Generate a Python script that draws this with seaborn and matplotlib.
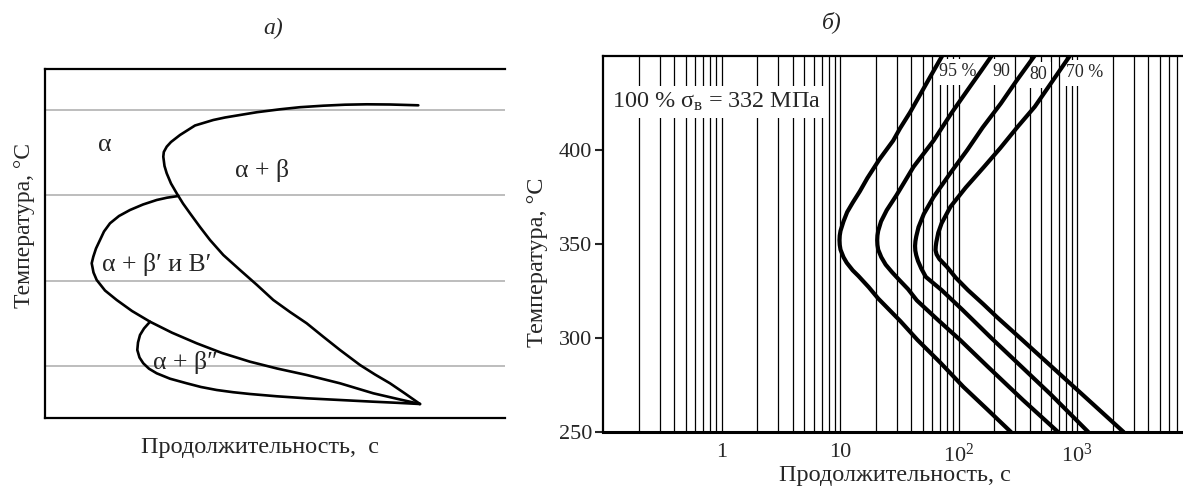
import numpy as np
import pandas as pd
import matplotlib
matplotlib.use("Agg")
import matplotlib.pyplot as plt
from matplotlib.ticker import FixedLocator, LogLocator, NullFormatter
import seaborn as sns

# ---------------- panel a) : schematic (arbitrary units read from picture) ----------------
a_grid_levels = [308, 222.7, 137.3, 52]

a_curveA_u = [373.3, 345, 321.7, 300, 278.3, 255, 235, 212, 195, 180, 168.3, 150, 135, 126, 121.7, 118.8,
              118.3, 119.5, 121.7, 126, 131.7, 138, 145, 155, 165, 178.3, 195, 212, 228.3, 245, 261.7,
              278, 295, 315, 330, 345, 360, 375]
a_curveA_v = [312.7, 313.5, 313.7, 313.3, 312.3, 310.8, 308.7, 305.8, 303, 300.5, 298, 292.5, 283, 276,
              271.3, 266, 261.3, 252, 244.7, 234.5, 224.7, 214.5, 204.7, 191, 178, 163, 148, 133, 118, 106,
              94.7, 81.5, 68, 53, 43.5, 34.7, 24.5, 14]

a_curveB_u = [133.3, 122, 111.7, 98, 85, 74, 65, 59, 55, 51, 48.3, 46.7, 48.5, 51.7, 60, 71.7, 87, 105, 127,
              151.7, 177, 205, 232, 261.7, 295, 328.3, 352, 375]
a_curveB_v = [222, 220.3, 218, 213.5, 208, 202, 194.7, 186.5, 178, 169.5, 161.3, 154.7, 145.5, 138, 127.5,
              118, 107, 96.3, 85.3, 74.7, 65, 56.3, 49.5, 43, 34.7, 24.7, 19.2, 14]

a_curveC_u = [105, 99, 95, 93, 92.3, 94.5, 98.3, 104, 111.7, 125, 141.7, 156, 171.7, 188, 205, 232, 261.7,
              295, 328.3, 352, 375]
a_curveC_v = [96.3, 89.5, 83, 75.5, 68, 60.5, 54.7, 49.3, 44.7, 39.3, 34.7, 31, 28, 25.8, 24, 21.7, 19.7,
              18, 16.3, 15.2, 14]

a_labels = ["α", "α + β", "α + β′ и В′", "α + β″"]
a_label_u = [60, 217, 112, 140]
a_label_v = [273, 248, 153, 55]

# ---------------- panel b) : C-curves, temperature (°C) vs duration (s) ----------------
b_names = ["95 %", "90", "80", "70 %"]

b_T1 = [450, 440, 430, 420, 411.5, 405, 395, 385, 378, 372, 367, 362, 357, 354.5, 352, 349.5, 347, 343,
        340, 336, 333, 327, 321, 309, 299, 287, 274, 262, 250]
b_t1 = [72.7, 59, 48, 39, 32.1, 28.1, 21.5, 17, 14.7, 12.8, 11.5, 10.7, 10.1, 9.95, 9.9, 9.95, 10.1,
        10.7, 11.4, 12.8, 14.3, 17.5, 21, 32.3, 45, 70, 110, 175, 277]

b_T2 = [450, 442, 434, 420, 405, 391, 383, 376, 368, 362, 357, 354.5, 352, 349.5, 347, 343, 339, 335,
        331, 326, 320, 310, 299, 285, 267, 250]
b_t2 = [190, 155, 126, 88, 61.6, 41.7, 35, 30, 24.8, 22.2, 21, 20.7, 20.6, 20.7, 21, 22.3, 24.3, 27.5,
        31.5, 37.5, 44.5, 66, 103, 175, 350, 692]

b_T3 = [450, 437, 424.8, 412, 400, 388, 375, 366, 359, 354, 351.5, 349, 346.5, 344, 341, 337, 332.5,
        325.5, 315, 300, 288, 270, 250]
b_t3 = [437, 310, 228, 160, 118.6, 86, 61.6, 51, 46, 44, 43.3, 43, 43.2, 44, 45.5, 48.5, 53, 72, 108,
        189, 300, 600, 1245]

b_T4 = [450, 434.5, 423, 412.4, 401, 391, 380, 369.8, 361, 356, 351, 348.8, 346.7, 344.5, 342, 337.8,
        332, 325.5, 318, 311, 299, 284.6, 268, 250]
b_t4 = [868, 588, 440, 316, 225, 164, 115, 85.5, 72, 67.5, 65, 64.3, 64, 65.3, 69, 80, 95, 120, 162, 212,
        345, 615, 1200, 2472]

b_label_t = [99, 228, 469, 1170]
b_label_T = [441.5, 441.5, 440, 441]

b_xticks = [1, 10, 100, 1000]
b_xticklabels = ["1", "10", "10$^\\mathregular{2}$", "10$^\\mathregular{3}$"]
b_yticks = [250, 300, 350, 400]

# ---------------- figure ----------------
sns.set_style("white")
plt.rcParams["font.family"] = ["Liberation Serif", "DejaVu Serif"]
plt.rcParams["mathtext.default"] = "regular"

W, H = 1183, 488
fig = plt.figure(figsize=(W / 100, H / 100), dpi=100)

# ---- panel a
RL = 505
axL = fig.add_axes([45 / W, (H - 418) / H, (RL - 45) / W, (418 - 69) / H])
for lvl in a_grid_levels:
    axL.axhline(lvl, color="#b8b8b8", lw=1.3, zorder=1)
for uu, vv in [(a_curveA_u, a_curveA_v), (a_curveB_u, a_curveB_v), (a_curveC_u, a_curveC_v)]:
    df = pd.DataFrame({"u": uu, "v": vv})
    sns.lineplot(data=df, x="u", y="v", sort=False, estimator=None, color="black", lw=1.9,
                 ax=axL, zorder=3)
axL.set_xlim(0, RL - 45)
axL.set_ylim(0, 349)
axL.set_xticks([])
axL.set_yticks([])
axL.set_xlabel("")
axL.set_ylabel("")
for s in ["left", "top", "bottom"]:
    axL.spines[s].set_visible(True)
    axL.spines[s].set_color("black")
    axL.spines[s].set_linewidth(1.6)
axL.spines["right"].set_visible(False)
for txt, uu, vv in zip(a_labels, a_label_u, a_label_v):
    axL.text(uu, vv, txt, ha="center", va="center", fontsize=18.5, zorder=4)

fig.text(260 / W, 1 - 448 / H, "Продолжительность,  с", ha="center", va="center", fontsize=17.5)
fig.text(25 / W, 1 - 225 / H, "Температура, °С", ha="center", va="center", rotation=90, fontsize=17)
fig.text(273 / W, 1 - 28 / H, "а)", ha="center", va="center", fontsize=17, style="italic")

# ---- panel b
x0, dec = 603, 118.5
axR = fig.add_axes([x0 / W, (H - 432) / H, 5 * dec / W, (432 - 56) / H])
axR.set_xscale("log")
for TT, tt in [(b_T1, b_t1), (b_T2, b_t2), (b_T3, b_t3), (b_T4, b_t4)]:
    df = pd.DataFrame({"t": tt, "T": TT})
    sns.lineplot(data=df, x="t", y="T", sort=False, estimator=None, color="black", lw=3.0,
                 ax=axR, zorder=5)
axR.set_xlim(0.1, 1e4)
axR.set_ylim(250, 450)
axR.xaxis.set_major_locator(FixedLocator(b_xticks))
axR.set_xticklabels(b_xticklabels)
axR.xaxis.set_minor_locator(LogLocator(base=10, subs=np.arange(2, 10), numticks=100))
axR.xaxis.set_minor_formatter(NullFormatter())
axR.set_yticks(b_yticks)
axR.set_axisbelow(True)
axR.grid(True, which="both", axis="x", color="black", lw=0.9)
axR.grid(False, axis="y")
axR.tick_params(axis="x", which="both", length=0, labelsize=16, pad=8)
axR.tick_params(axis="y", which="both", length=6, width=1.5, direction="out", labelsize=16,
                left=True, pad=2)
axR.set_xlabel("")
axR.set_ylabel("")
for s in ["left", "top", "bottom"]:
    axR.spines[s].set_visible(True)
    axR.spines[s].set_color("black")
axR.spines["left"].set_linewidth(1.6)
axR.spines["top"].set_linewidth(1.6)
axR.spines["bottom"].set_linewidth(2.2)
axR.spines["right"].set_visible(False)

for txt, tt, TT in zip(b_names, b_label_t, b_label_T):
    axR.text(tt, TT, txt, ha="center", va="center", fontsize=13, zorder=4,
             bbox=dict(boxstyle="square,pad=0.25", fc="white", ec="none"))
axR.text(0.119, 425.5, "100 % σ$_\\mathregular{в}$ = 332 МПа", ha="left", va="center", fontsize=17.4,
         zorder=4, bbox=dict(boxstyle="square,pad=0.2", fc="white", ec="none"))

fig.text(895 / W, 1 - 476 / H, "Продолжительность, с", ha="center", va="center", fontsize=17.5)
fig.text(538 / W, 1 - 262 / H, "Температура, °С", ha="center", va="center", rotation=90, fontsize=17.5)
fig.text(832 / W, 1 - 22 / H, "б)", ha="center", va="center", fontsize=17, style="italic")

fig.savefig("out.png", dpi=100)
